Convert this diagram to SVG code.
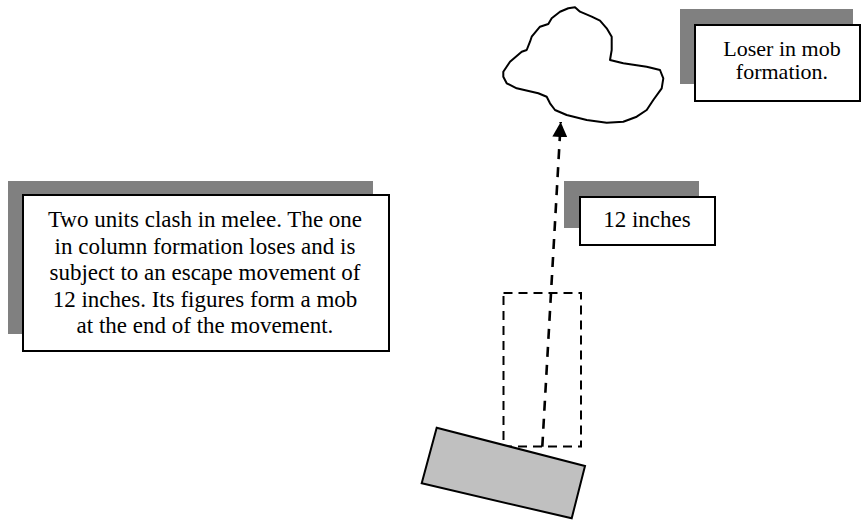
<svg xmlns="http://www.w3.org/2000/svg" width="861" height="523" viewBox="0 0 861 523">
<style>
.shadow{fill:#808080;stroke:none}
.box{fill:#ffffff;stroke:#000000;stroke-width:2}
.lbl{font-family:"Liberation Serif","Times New Roman",serif;font-size:23px;fill:#000000;text-anchor:middle}
.lbl-tight{font-size:22px}
.outline{fill:#ffffff;stroke:#000000;stroke-width:2;stroke-linejoin:round}
</style>
<defs>
<marker id="arrow" viewBox="0 0 16 15" refX="15" refY="7.5" markerWidth="16" markerHeight="15" markerUnits="userSpaceOnUse" orient="auto">
<path d="M0,0 L15,7.5 L0,15 Z" fill="#000000"/>
</marker>
</defs>
<g id="mob">
<path class="outline" d="M503.3,71.7 L510,61.7 L521.7,51.7 L526.7,50 L530,41.7 L531.7,36.7 L540,26.7 L548.3,24 L551.7,18.3 L560,11.7 L568.3,8.3 L575,7.3 L580,11.7 L591.7,16.7 L600,20.7 L606.7,28.3 L611.7,36.7 L611.7,50 L610,60 L623.3,63.3 L646.7,66.7 L660,70 L663.3,78.3 L661.7,88.3 L653.3,100 L646.7,110 L636.7,116.7 L623.3,121.7 L606.7,122.7 L586.7,120 L566.7,115 L555,110 L550,103.3 L546.7,96.7 L538.3,93.3 L516.7,88.3 L506.7,83.3 L503.3,76.7 Z"/>
</g>
<g id="loser-label">
<rect class="shadow" x="680" y="9" width="173" height="75"/>
<rect class="box" x="695" y="25" width="165" height="76"/>
<text class="lbl lbl-tight" x="782" y="55.5">Loser in mob</text>
<text class="lbl lbl-tight" x="782" y="78.5">formation.</text>
</g>
<g id="description">
<rect class="shadow" x="8" y="181" width="365" height="153"/>
<rect class="box" x="23" y="195" width="366" height="156"/>
<text class="lbl" x="205" y="227">Two units clash in melee. The one</text>
<text class="lbl" x="205" y="253.5">in column formation loses and is</text>
<text class="lbl" x="205" y="280">subject to an escape movement of</text>
<text class="lbl" x="205" y="306.5">12 inches. Its figures form a mob</text>
<text class="lbl" x="205" y="333">at the end of the movement.</text>
</g>
<g id="distance-label">
<rect class="shadow" x="564" y="181" width="135" height="47"/>
<rect class="box" x="580" y="197" width="135" height="48"/>
<text class="lbl" x="647" y="227">12 inches</text>
</g>
<g id="column-start">
<rect x="503.5" y="293" width="77.5" height="153.5" fill="none" stroke="#000000" stroke-width="2" stroke-dasharray="9 6"/>
</g>
<g id="column-unit">
<polygon points="436.7,427.7 585,466 571.7,518.3 421.7,483.3" fill="#c0c0c0" stroke="#000000" stroke-width="2" stroke-linejoin="miter"/>
</g>
<g id="connectors">
<line x1="542.3" y1="446.7" x2="560.7" y2="122" stroke="#000000" stroke-width="2.6" stroke-dasharray="10 8" marker-end="url(#arrow)"/>
</g>
</svg>
